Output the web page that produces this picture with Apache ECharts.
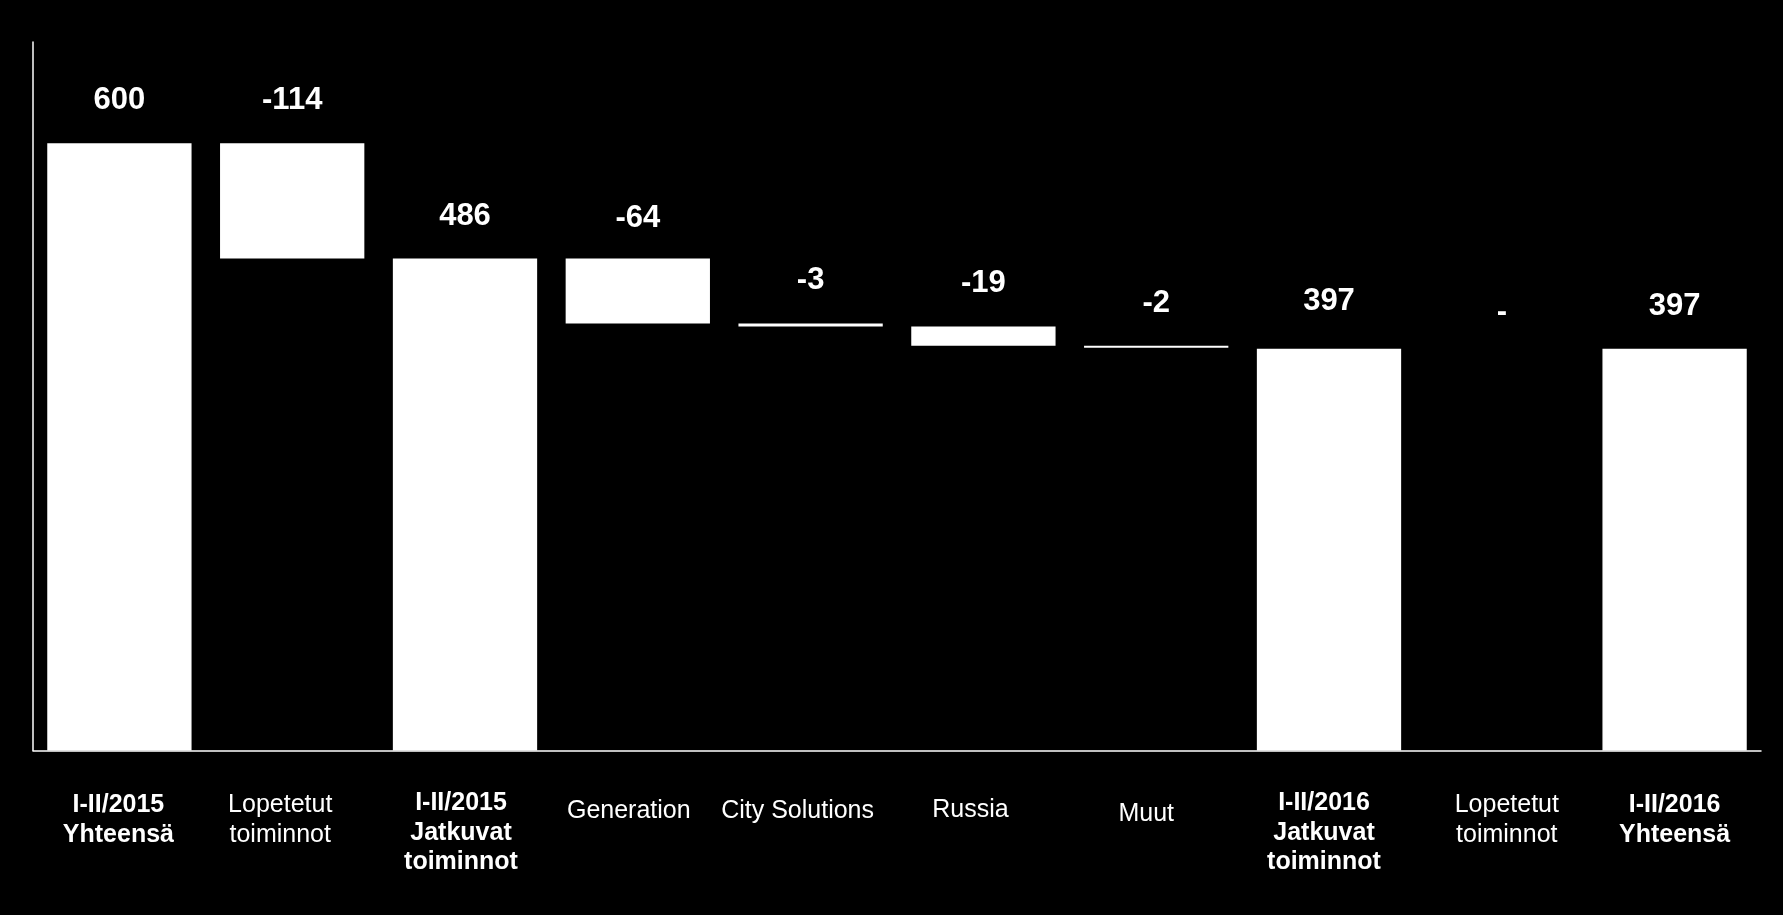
<!DOCTYPE html>
<html>
<head>
<meta charset="utf-8">
<script src="https://cdn.jsdelivr.net/npm/echarts@6/dist/echarts.min.js"></script>
<style>
html,body{margin:0;padding:0;background:#000;}
#chart{width:1783px;height:915px;}
</style>
</head>
<body>
<div id="chart"></div>
<script>
// ---- data ----
const categories = [
  'I-II/2015\nYhteensä',
  'Lopetetut\ntoiminnot',
  'I-II/2015\nJatkuvat\ntoiminnot',
  'Generation',
  'City Solutions',
  'Russia',
  'Muut',
  'I-II/2016\nJatkuvat\ntoiminnot',
  'Lopetetut\ntoiminnot',
  'I-II/2016\nYhteensä'
];
const values = [600, -114, 486, -64, -3, -19, -2, 397, 0, 397];
const isTotal = [true, false, true, false, false, false, false, true, false, true];

// ---- layout tweaks (style only) ----
const labelShiftX = [-1, -12, -4, -9, -13, -13, -10, -5, 5, 0];
const labelPadTop = [2, 2, 0, 8, 8, 7, 11, 0, 2, 2];
const valueLabelDist = [27, 27, 27, 25, 27, 27, 27, 32, 21, 27];

// ---- waterfall build ----
const base = [];
const visible = [];
let running = 0;
for (let i = 0; i < values.length; i++) {
  const v = values[i];
  if (isTotal[i]) {
    base.push(0); visible.push(v); running = v;
  } else if (v < 0) {
    base.push(running + v); visible.push(-v); running += v;
  } else {
    base.push(running); visible.push(v); running += v;
  }
}

const FONT = '"Liberation Sans", Arial, sans-serif';

const xData = categories.map((c, i) => {
  const bold = c.startsWith('I-II');
  const s = labelShiftX[i];
  return {
    value: c,
    textStyle: {
      fontWeight: bold ? 'bold' : 'normal',
      padding: [labelPadTop[i], s < 0 ? -2 * s : 0, 0, s > 0 ? 2 * s : 0]
    }
  };
});

const chart = echarts.init(document.getElementById('chart'));
chart.setOption({
  backgroundColor: '#000000',
  animation: false,
  grid: { left: 33, right: 22, top: 42, bottom: 164.5, containLabel: false },
  xAxis: {
    type: 'category',
    data: xData,
    axisLine: { show: true, lineStyle: { color: '#ffffff', width: 1.5 } },
    axisTick: { show: false },
    axisLabel: {
      interval: 0,
      color: '#ffffff',
      fontFamily: FONT,
      fontSize: 25,
      lineHeight: 29.5,
      margin: 38,
      verticalAlign: 'top'
    }
  },
  yAxis: {
    type: 'value',
    min: 0,
    max: 700,
    axisLine: { show: true, lineStyle: { color: '#ffffff', width: 1.5 } },
    axisTick: { show: false },
    axisLabel: { show: false },
    splitLine: { show: false }
  },
  series: [
    {
      type: 'bar',
      stack: 'wf',
      data: base,
      itemStyle: { color: 'transparent' },
      barCategoryGap: '16.5%',
      silent: true
    },
    {
      type: 'bar',
      stack: 'wf',
      barCategoryGap: '16.5%',
      data: visible.map((v, i) => ({
        value: v,
        itemStyle: v === 0 ? { borderWidth: 0 } : undefined,
        label: { distance: valueLabelDist[i] }
      })),
      itemStyle: { color: '#ffffff', borderColor: '#ffffff', borderWidth: 1.5 },
      label: {
        show: true,
        position: 'top',
        distance: 27,
        color: '#ffffff',
        fontFamily: FONT,
        fontWeight: 'bold',
        fontSize: 31,
        formatter: p => values[p.dataIndex] === 0 ? '-' : String(values[p.dataIndex])
      }
    }
  ]
});
</script>
</body>
</html>
